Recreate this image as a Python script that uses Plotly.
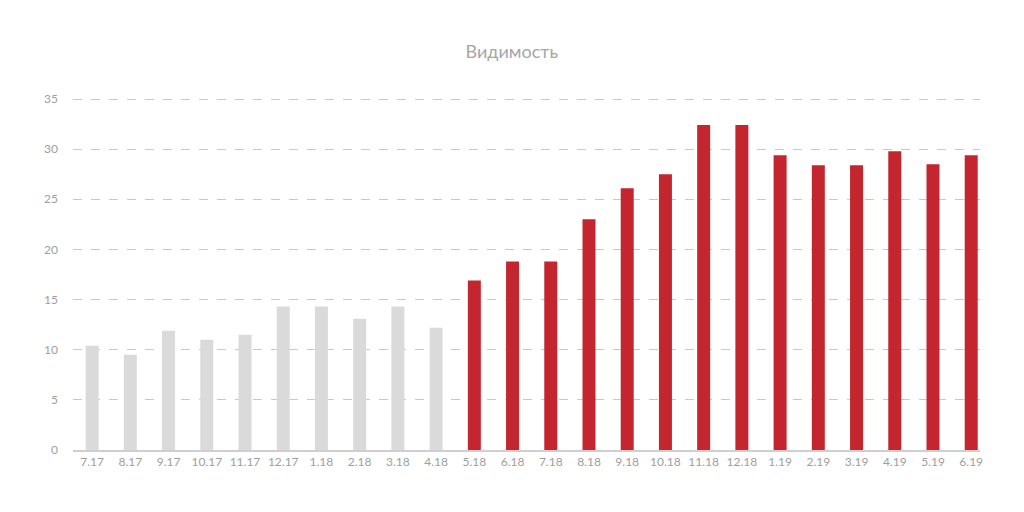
import plotly.graph_objects as go

categories = ["7.17", "8.17", "9.17", "10.17", "11.17", "12.17", "1.18", "2.18", "3.18", "4.18",
              "5.18", "6.18", "7.18", "8.18", "9.18", "10.18", "11.18", "12.18", "1.19", "2.19",
              "3.19", "4.19", "5.19", "6.19"]
values = [10.4, 9.5, 11.9, 11.0, 11.5, 14.3, 14.3, 13.1, 14.3, 12.2,
          16.9, 18.8, 18.8, 23.0, 26.1, 27.5, 32.4, 32.4, 29.4, 28.4,
          28.4, 29.8, 28.5, 29.4]
highlight_from = "5.18"

GRAY = "#dadada"
RED = "#c4262f"
start = categories.index(highlight_from)
colors = [GRAY if i < start else RED for i in range(len(categories))]

fig = go.Figure(go.Bar(
    x=list(range(len(categories))), y=values,
    marker=dict(color=colors, line=dict(width=0)),
    width=0.34,
    hoverinfo="y",
))

fig.update_layout(
    width=1024, height=512,
    margin=dict(l=65, r=52, t=89, b=70),
    paper_bgcolor="white", plot_bgcolor="white",
    font=dict(family="Lato, sans-serif", color="#9a9a9a", size=12),
    title=dict(text="Видимость", x=0.492, xanchor="center", y=0.914, yanchor="middle",
               font=dict(size=18, color="#a6a6a6", family="Lato, sans-serif")),
    showlegend=False,
)
fig.update_xaxes(
    tickmode="array", tickvals=list(range(len(categories))), ticktext=categories,
    range=[-0.5, 23.23], showgrid=False, showline=True, linecolor="#cfcfcf", linewidth=1.5,
    ticks="", tickfont=dict(size=12, color="#9e9e9e"), zeroline=False,
)
fig.update_yaxes(
    range=[0, 35.2], tickvals=[0, 5, 10, 15, 20, 25, 30, 35], showgrid=True,
    gridcolor="#c8c8c8", griddash="dash", gridwidth=1,
    zeroline=False, showline=False, ticks="", ticklabelstandoff=14,
    tickfont=dict(size=12, color="#9e9e9e"),
)

fig.write_html("out.html")
